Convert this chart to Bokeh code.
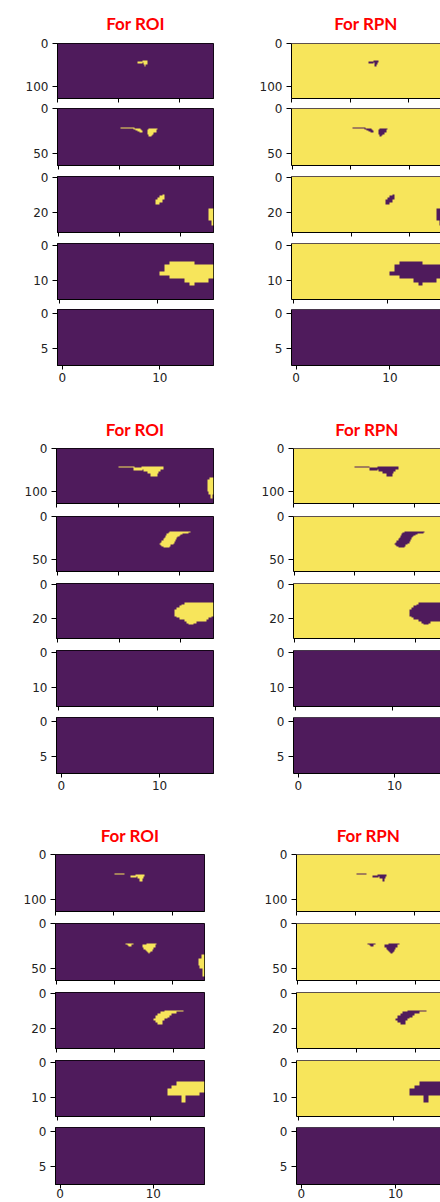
import numpy as np
from bokeh.plotting import figure
from bokeh.layouts import column, row
from bokeh.models import Range1d, FixedTicker, LinearColorMapper, Span
from bokeh.embed import file_html
from bokeh.resources import INLINE

# Feature-map size (rows, cols) of each pyramid level
LEVEL_SHAPES = [(128, 256), (64, 128), (32, 64), (16, 32), (8, 16)]
X_TICKS = [[0, 100, 200], [0, 50, 100], [0, 25, 50], [0, 20], [0, 10]]
Y_TICKS = [[0, 100], [0, 50], [0, 20], [0, 10], [0, 5]]
COLUMN_TITLES = ["For ROI", "For RPN"]

# ROI masks per sample and level, as filled cells (row0, row1, col0, col1), ends exclusive
S1_L1 = [(43, 46, 131, 140), (40, 45, 140, 148), (45, 49, 141, 147), (49, 54, 142, 145)]
S1_L2 = [(21, 23, 52, 63), (22, 23, 62, 66), (23, 24, 62, 68), (24, 25, 64, 69), (25, 26, 66, 70),
         (26, 27, 67, 70), (23, 24, 75, 82), (24, 27, 74, 81), (27, 29, 74, 79), (29, 30, 75, 78),
         (30, 31, 75, 77)]
S1_L3 = [(10, 11, 43, 44), (11, 12, 42, 44), (12, 13, 41, 44), (13, 15, 40, 43), (15, 16, 40, 42),
         (18, 25, 62, 64), (25, 28, 63, 64)]
S1_L4 = [(5, 6, 23, 28), (6, 8, 22, 32), (8, 9, 21, 32), (9, 10, 23, 32), (10, 11, 26, 31),
         (11, 12, 27, 28)]
S1_L5 = []

S2_L1 = [(41, 45, 101, 127), (44, 51, 126, 140), (43, 48, 139, 175), (48, 53, 142, 170),
         (53, 58, 148, 167), (58, 64, 154, 165), (68, 72, 250, 256), (72, 100, 246, 256),
         (100, 106, 248, 256), (106, 116, 251, 254)]
S2_L2 = [(18, 19, 92, 109), (19, 20, 91, 108), (20, 21, 90, 103), (21, 22, 90, 101),
         (22, 23, 89, 100), (23, 24, 89, 99), (24, 25, 88, 99), (25, 26, 88, 98), (26, 27, 87, 98),
         (27, 28, 87, 97), (28, 29, 86, 97), (29, 30, 86, 96), (30, 31, 85, 96), (31, 32, 84, 95),
         (32, 33, 84, 94), (33, 34, 85, 93), (34, 35, 86, 93), (35, 36, 87, 92)]
S2_L3 = [(11, 12, 52, 64), (12, 13, 51, 64), (13, 14, 50, 64), (14, 15, 49, 64), (15, 19, 48, 64),
         (19, 20, 49, 63), (20, 21, 50, 62), (21, 22, 52, 61), (22, 23, 53, 57), (23, 24, 54, 56)]
S2_L4 = []
S2_L5 = []

S3_L1 = [(42, 46, 101, 119), (47, 52, 129, 139), (45, 49, 138, 153), (49, 54, 141, 151),
         (54, 60, 145, 149)]
S3_L2 = [(22, 23, 59, 67), (23, 24, 60, 67), (24, 25, 62, 65), (25, 26, 63, 65),
         (22, 23, 83, 88), (23, 24, 78, 87), (24, 27, 75, 86), (27, 29, 76, 84), (29, 30, 77, 83),
         (30, 31, 78, 83), (31, 32, 79, 82), (32, 33, 79, 81), (33, 34, 80, 81),
         (35, 39, 125, 128), (39, 47, 123, 128), (47, 51, 124, 128), (51, 59, 126, 128)]
S3_L3 = [(10, 11, 47, 55), (11, 12, 45, 52), (12, 13, 44, 50), (13, 14, 43, 49), (14, 15, 43, 48),
         (15, 16, 42, 47), (16, 17, 43, 46), (17, 18, 44, 46)]
S3_L4 = [(6, 7, 26, 32), (7, 8, 25, 32), (8, 9, 24, 32), (9, 10, 24, 31), (10, 12, 27, 28)]
S3_L5 = []

SAMPLES = [
    [S1_L1, S1_L2, S1_L3, S1_L4, S1_L5],
    [S2_L1, S2_L2, S2_L3, S2_L4, S2_L5],
    [S3_L1, S3_L2, S3_L3, S3_L4, S3_L5],
]

PURPLE = "#4f1b5c"
YELLOW = "#f7e55b"
TICK_COLOR = "#222222"

# page geometry (pixels)
GROUP_START = [0, 395, 803]
GROUP_END = [395, 803, 1202]
FRAME_TOP = [[43, 108, 176, 243, 309], [448, 516, 583, 650, 717], [854, 923, 992, 1060, 1127]]
FRAME_BOT = [[98, 165, 232, 299, 365], [503, 571, 638, 706, 773], [911, 980, 1048, 1116, 1184]]
ROI_LEFT = [57, 56, 55]
ROI_W = [156, 157, 149]
RPN_LEFT = [291, 293, 296]
RPN_FULL_W = [150, 154, 151]
TITLE_STANDOFF = [20, 18, 18]
PAGE_W = 440


def build_mask(rects, shape):
    m = np.zeros(shape)
    for r0, r1, c0, c1 in rects:
        m[r0:r1, c0:c1] = 1.0
    return m


def autoscale(a):
    lo, hi = a.min(), a.max()
    if hi == lo:
        return np.zeros_like(a)
    return (a - lo) / (hi - lo)


mapper = LinearColorMapper(palette=[PURPLE, YELLOW], low=0, high=1)


def make_panel(mask, level, fig_left, frame_left, frame_w, full_w, fig_w,
               b_top, frame_h, b_bot, title, title_standoff, boxed, label_standoff, last):
    rows, cols = LEVEL_SHAPES[level]
    x_end = -0.5 + cols * frame_w / full_w
    kw = dict(
        frame_width=frame_w, frame_height=frame_h,
        x_range=Range1d(-0.5, x_end), y_range=Range1d(rows - 0.5, -0.5),
        min_border_left=frame_left - fig_left,
        min_border_right=fig_w - (frame_left - fig_left) - frame_w,
        min_border_top=b_top, min_border_bottom=b_bot,
        output_backend="svg", toolbar_location=None,
        border_fill_color="white", background_fill_color=PURPLE,
    )
    if title:
        p = figure(title=title, **kw)
        p.title.align = "center"
        p.title.text_font = "Lato"
        p.title.text_font_style = "bold"
        p.title.text_font_size = "17px"
        p.title.text_color = "#ff0000"
        p.title.standoff = title_standoff
    else:
        p = figure(title=None, **kw)

    p.image(image=[mask], x=-0.5, y=-0.5, dw=cols, dh=rows, color_mapper=mapper)

    p.grid.visible = False
    if boxed:
        p.outline_line_color = "black"
        p.outline_line_width = 1
    else:
        p.outline_line_color = None
        p.add_layout(Span(location=-0.5, dimension="width", line_color="black", line_width=1))

    for ax in p.axis:
        ax.axis_line_color = "black"
        ax.axis_line_width = 1
        ax.major_tick_line_color = "black"
        ax.major_tick_in = 0
        ax.minor_tick_line_color = None
        ax.major_label_text_font = "DejaVu Sans"
        ax.major_label_text_font_size = "12px"
        ax.major_label_text_color = TICK_COLOR

    p.xaxis.ticker = FixedTicker(ticks=X_TICKS[level])
    p.yaxis.ticker = FixedTicker(ticks=Y_TICKS[level])
    p.xaxis.major_tick_out = 4
    p.yaxis.major_tick_out = 5
    p.yaxis.major_label_standoff = 4
    if last:
        p.xaxis.major_label_standoff = label_standoff
    else:
        # the panel below covers these tick labels
        p.xaxis.major_label_text_font_size = "0px"
        p.xaxis.major_label_text_color = None
        p.xaxis.major_label_standoff = 0
    return p


rows_out = []
for g, levels in enumerate(SAMPLES):
    rpn_fig_left = RPN_LEFT[g] - 50
    for k in range(5):
        shape = LEVEL_SHAPES[k]
        roi = build_mask(levels[k], shape)
        rpn = 1.0 - roi
        roi_img = autoscale(roi)
        rpn_img = autoscale(rpn)

        top_edge = GROUP_START[g] if k == 0 else FRAME_TOP[g][k] - 5
        bot_edge = GROUP_END[g] if k == 4 else FRAME_TOP[g][k + 1] - 5
        b_top = FRAME_TOP[g][k] - top_edge
        frame_h = FRAME_BOT[g][k] - FRAME_TOP[g][k]
        b_bot = bot_edge - FRAME_BOT[g][k]
        standoff = 0 if g == 2 else 3

        left = make_panel(roi_img, k, 0, ROI_LEFT[g], ROI_W[g], ROI_W[g], rpn_fig_left,
                          b_top, frame_h, b_bot, COLUMN_TITLES[0] if k == 0 else None,
                          TITLE_STANDOFF[g], True, standoff, k == 4)
        vis_w = PAGE_W - RPN_LEFT[g]
        right = make_panel(rpn_img, k, rpn_fig_left, RPN_LEFT[g], vis_w, RPN_FULL_W[g],
                           PAGE_W - rpn_fig_left, b_top, frame_h, b_bot,
                           COLUMN_TITLES[1] if k == 0 else None, TITLE_STANDOFF[g],
                           False, standoff, k == 4)
        rows_out.append(row(left, right, spacing=0))

layout = column(*rows_out, spacing=0)
open("out.html", "w").write(file_html(layout, INLINE))
